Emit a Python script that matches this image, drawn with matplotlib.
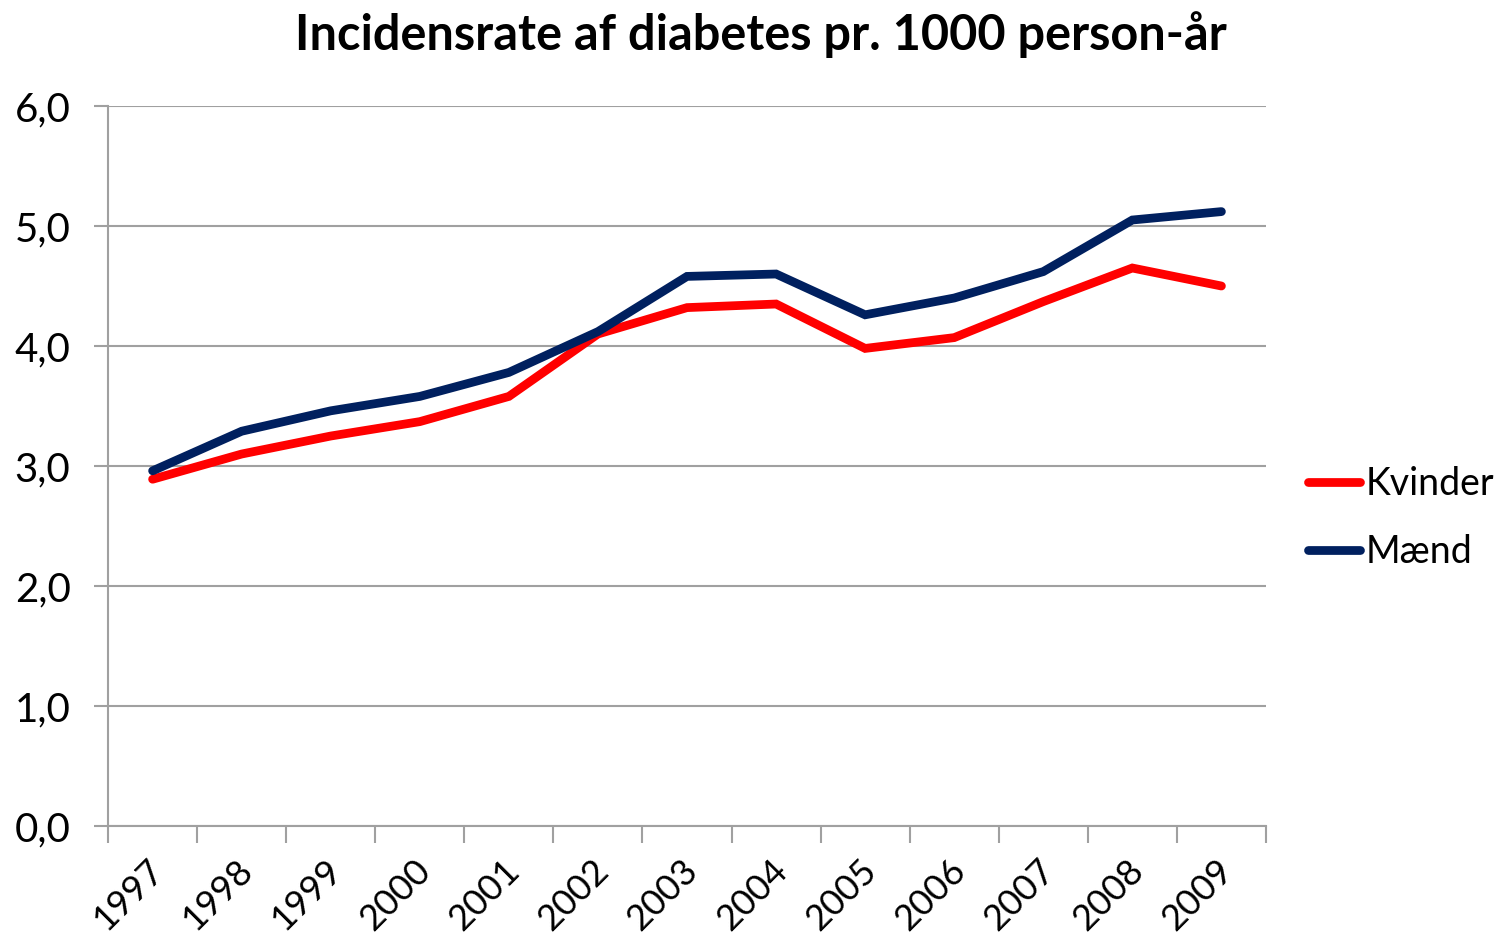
import matplotlib
matplotlib.use('Agg')
import matplotlib.pyplot as plt
import matplotlib.transforms as mtransforms
import numpy as np

plt.rcParams['font.family'] = ['Lato', 'DejaVu Sans']

years = ['1997', '1998', '1999', '2000', '2001', '2002', '2003',
         '2004', '2005', '2006', '2007', '2008', '2009']
kvinder = [2.89, 3.10, 3.25, 3.37, 3.58, 4.10, 4.32, 4.35, 3.98, 4.07, 4.37, 4.65, 4.50]
maend = [2.96, 3.29, 3.46, 3.58, 3.78, 4.12, 4.58, 4.60, 4.26, 4.40, 4.62, 5.05, 5.12]
yticks = [0, 1, 2, 3, 4, 5, 6]
ytick_labels = ['0,0', '1,0', '2,0', '3,0', '4,0', '5,0', '6,0']

grid_col = '#A0A0A0'
fig = plt.figure(figsize=(15.01, 9.43), dpi=100)
ax = fig.add_axes([0.072, 0.124, 0.7714, 0.7636])

x = np.arange(len(years))
ax.plot(x, kvinder, color='#FF0000', lw=6.3, solid_capstyle='round', solid_joinstyle='miter', label='Kvinder', zorder=3)
ax.plot(x, maend, color='#00205F', lw=6.3, solid_capstyle='round', solid_joinstyle='miter', label='Mænd', zorder=3)

ax.set_xlim(-0.5, len(years) - 0.5)
ax.set_ylim(0, 6)
ax.set_yticks(yticks)
ax.set_yticklabels(ytick_labels, fontsize=29)
ax.yaxis.grid(True, color=grid_col, lw=1.5)
ax.set_axisbelow(True)

ax.set_xticks(x)
ax.set_xticklabels(years, rotation=45, ha='right', va='top', rotation_mode='anchor', fontsize=26)
ax.set_xticks(np.arange(-0.5, len(years)), minor=True)
ax.tick_params(axis='x', which='major', length=0, pad=20)
ax.tick_params(axis='x', which='minor', length=12, width=1.5, color=grid_col)
ax.tick_params(axis='y', length=10, width=1.5, color=grid_col, pad=17)
shift = mtransforms.ScaledTranslation(-6 / 100, 0, fig.dpi_scale_trans)
for lbl in ax.get_xticklabels():
    lbl.set_transform(lbl.get_transform() + shift)

for s in ['top', 'right']:
    ax.spines[s].set_visible(False)
for s in ['left', 'bottom']:
    ax.spines[s].set_color(grid_col)
    ax.spines[s].set_linewidth(1.5)

fig.text(0.507, 0.963, 'Incidensrate af diabetes pr. 1000 person-år',
         ha='center', va='center', fontsize=35, fontweight='bold')

ax.legend(loc='center left', bbox_to_anchor=(0.8714, 0.451), bbox_transform=fig.transFigure,
          frameon=False, fontsize=27, handlelength=1.4, handletextpad=0.15, labelspacing=0.85,
          borderpad=0, borderaxespad=0)

fig.savefig('out.png', dpi=100)
